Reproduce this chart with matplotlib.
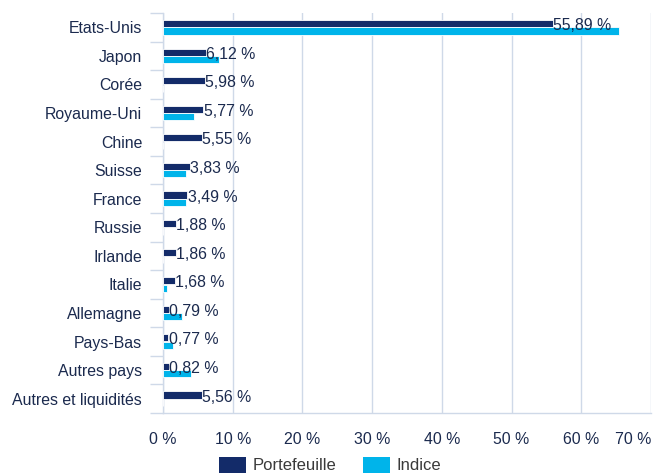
import matplotlib
matplotlib.use("Agg")
import matplotlib.pyplot as plt
import numpy as np
from matplotlib.patches import Patch
from matplotlib.ticker import FixedLocator

categories = ["Etats-Unis", "Japon", "Corée", "Royaume-Uni", "Chine", "Suisse",
              "France", "Russie", "Irlande", "Italie", "Allemagne", "Pays-Bas",
              "Autres pays", "Autres et liquidités"]
portefeuille = [55.89, 6.12, 5.98, 5.77, 5.55, 3.83, 3.49, 1.88, 1.86, 1.68, 0.79, 0.77, 0.82, 5.56]
indice = [65.4, 8.0, 0.0, 4.5, 0.0, 3.3, 3.3, 0.0, 0.0, 0.6, 2.7, 1.4, 4.0, 0.0]
xticks = [0, 10, 20, 30, 40, 50, 60, 70]
xtick_labels = ["0 %", "10 %", "20 %", "30 %", "40 %", "50 %", "60 %", "70 %"]
series_names = ["Portefeuille", "Indice"]

NAVY = "#132b69"
CYAN = "#00b4ea"
TEXT = "#1b2a4e"
GRID = "#cfd9e8"
FS = 11.4

plt.rcParams['font.family'] = ['Liberation Sans', 'DejaVu Sans']

fig = plt.figure(figsize=(6.53, 4.74), dpi=100)
ax = fig.add_axes([163/653, 61/474, 488/653, 400/474])

y = np.arange(len(categories))
h = 0.25
ax.barh(y - 0.13, portefeuille, height=h, color=NAVY, edgecolor="white", linewidth=0.6, zorder=3)
ax.barh(y + 0.13, indice, height=h, color=CYAN, edgecolor="white", linewidth=0.6, zorder=3)

for yi, v in zip(y, portefeuille):
    ax.text(v + 0.05, yi - 0.06, f"{v:.2f} %".replace(".", ","), va="center", ha="left",
            fontsize=FS, color=TEXT, zorder=4)

ax.set_xlim(0, 70)
ax.set_ylim(len(categories) - 0.5, -0.5)
ax.set_xticks(xticks)
ax.set_xticklabels(xtick_labels)
ax.set_yticks(y)
ax.set_yticklabels(categories)
ax.yaxis.set_minor_locator(FixedLocator(np.arange(-0.5, len(categories), 1.0)))
ax.tick_params(axis="y", which="major", length=0, pad=15, labelsize=FS, labelcolor=TEXT)
ax.tick_params(axis="y", which="minor", length=9.5, width=1, color=GRID)
ax.tick_params(axis="x", which="major", length=0, pad=14, labelsize=FS, labelcolor=TEXT)
lbls = ax.get_xticklabels()
lbls[-1].set_horizontalalignment("right")

ax.grid(axis="x", color=GRID, linewidth=1, zorder=0)
for s in ["top", "right"]:
    ax.spines[s].set_visible(False)
ax.spines["left"].set_color(GRID)
ax.spines["bottom"].set_color(GRID)
ax.spines["left"].set_linewidth(1)
ax.spines["bottom"].set_linewidth(1)

handles = [Patch(facecolor=NAVY, edgecolor="none"), Patch(facecolor=CYAN, edgecolor="none")]
fig.legend(handles, series_names, loc="center", bbox_to_anchor=(330/653, 1 - 465/474),
           ncol=2, frameon=False, fontsize=FS + 0.6, handlelength=1.6, handleheight=1.1,
           handletextpad=0.4, columnspacing=1.6, labelcolor="#3a3a3a",
           borderpad=0, borderaxespad=0)

fig.savefig("out.png", dpi=100)
